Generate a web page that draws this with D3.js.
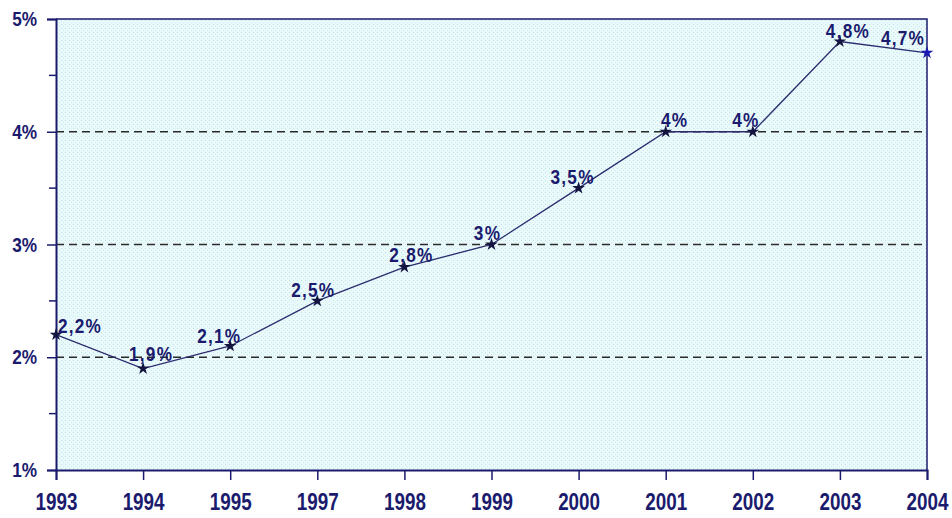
<!DOCTYPE html>
<html><head><meta charset="utf-8">
<script src="https://cdn.jsdelivr.net/npm/d3@7"></script>
<style>html,body{margin:0;padding:0;background:#fff;}svg{display:block;}</style>
</head><body>
<svg id="c" width="952" height="518"></svg>
<script>
const years = ["1993","1994","1995","1997","1998","1999","2000","2001","2002","2003","2004"];
const values = [2.2,1.9,2.1,2.5,2.8,3.0,3.5,4.0,4.0,4.8,4.7];
const labels = ["2,2%","1,9%","2,1%","2,5%","2,8%","3%","3,5%","4%","4%","4,8%","4,7%"];
const yTicks = [1,2,3,4,5];
const yMinor = [1.5,2.5,3.5,4.5];
const gridVals = [2,3,4];
// label offsets (layout config) relative to point: [dx of centre, dy of baseline]
const labelDx = [24,8,-11,-4,7,-4,-6,9,-7,8,-24];
const labelDy = [-2,-8,-3,-4,-5,-5,-4,-5,-5,-4,-8];

const svg = d3.select("#c");
const m = {l:56, t:19, r:952-927, b:518-470};
const W = 952 - m.l - m.r, H = 518 - m.t - m.b;
const font = "'Liberation Sans',Arial,sans-serif";
const SX = 0.82;
const navy = "#1b1b6e";

const defs = svg.append("defs");
const pat = defs.append("pattern").attr("id","dots").attr("patternUnits","userSpaceOnUse")
  .attr("width",4).attr("height",4);
pat.append("rect").attr("width",4).attr("height",4).attr("fill","#eafafb");
pat.append("rect").attr("x",1).attr("y",1).attr("width",1).attr("height",1).attr("fill","#bde3ec");
pat.append("rect").attr("x",3).attr("y",3).attr("width",1).attr("height",1).attr("fill","#cfecf2");

const g = svg.append("g").attr("transform",`translate(${m.l},${m.t})`);
const x = d3.scalePoint().domain(years).range([0,W]).padding(0);
const y = d3.scaleLinear().domain([1,5]).range([H,0]);

g.append("rect").attr("width",W).attr("height",H).attr("fill","url(#dots)");

g.selectAll("line.grid").data(gridVals).join("line").attr("class","grid")
  .attr("x1",0).attr("x2",W).attr("y1",d=>y(d)).attr("y2",d=>y(d))
  .attr("stroke","#2a2a2a").attr("stroke-width",1.3).attr("stroke-dasharray","8,5");

// frame top & right
g.append("path").attr("d",`M0,0H${W}V${H}`).attr("fill","none").attr("stroke",navy).attr("stroke-width",1.5);

// y axis
const ya = g.append("g").call(d3.axisLeft(y).tickValues(yTicks).tickFormat(d=>d+"%").tickSize(9).tickPadding(10));
ya.select(".domain").attr("stroke",navy).attr("stroke-width",2);
ya.selectAll(".tick line").attr("stroke",navy).attr("stroke-width",1.5);
ya.selectAll(".tick text").attr("fill",navy).attr("font-family",font).attr("font-weight","bold").attr("font-size",21)
  .attr("x",-19/SX).attr("transform",`scale(${SX},1)`);
g.append("g").selectAll("line").data(yMinor).join("line")
  .attr("x1",-7).attr("x2",0).attr("y1",d=>y(d)).attr("y2",d=>y(d)).attr("stroke",navy).attr("stroke-width",1.5);

// x axis
const xa = g.append("g").attr("transform",`translate(0,${H})`).call(d3.axisBottom(x).tickSize(10).tickPadding(14));
xa.select(".domain").attr("stroke",navy).attr("stroke-width",2);
xa.selectAll(".tick line").attr("stroke",navy).attr("stroke-width",1.5);
xa.selectAll(".tick text").attr("fill",navy).attr("font-family",font).attr("font-weight","bold").attr("font-size",23)
  .attr("transform",`scale(${SX},1)`);

// line
const pts = years.map((yr,i)=>({yr,v:values[i],lab:labels[i],i}));
g.append("path").datum(pts)
  .attr("d",d3.line().x(d=>x(d.yr)).y(d=>y(d.v)))
  .attr("fill","none").attr("stroke","#2c2c6e").attr("stroke-width",1.3);

g.selectAll("path.mk").data(pts).join("path").attr("class","mk")
  .attr("transform",d=>`translate(${x(d.yr)},${y(d.v)})`)
  .attr("d",d3.symbol().type(d3.symbolStar).size(50))
  .attr("fill",d=>d.i===pts.length-1?"#1a1ab0":"#141440");

g.selectAll("text.lab").data(pts).join("text").attr("class","lab")
  .attr("transform",d=>`translate(${x(d.yr)+labelDx[d.i]},${y(d.v)+labelDy[d.i]}) scale(${SX},1)`)
  .attr("text-anchor","middle").attr("fill",navy)
  .attr("font-family",font).attr("font-weight","bold").attr("font-size",21)
  .attr("letter-spacing",1.5)
  .text(d=>d.lab);
</script>
</body></html>
